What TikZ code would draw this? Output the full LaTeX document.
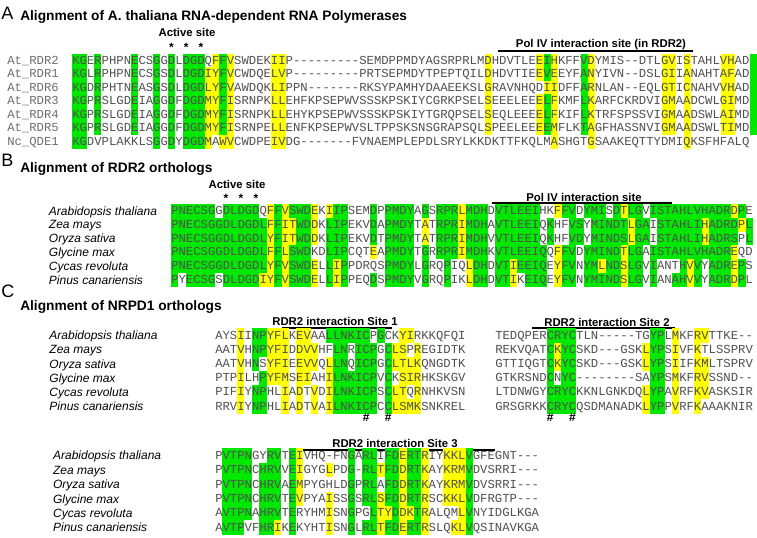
\documentclass[tikz,border=0pt]{standalone}
\usepackage{fontspec}
\setmainfont{Liberation Sans}
\setmonofont{Liberation Mono}
\definecolor{hlg}{RGB}{0,232,0}
\definecolor{hly}{RGB}{255,255,0}
\definecolor{seqtxt}{RGB}{80,80,80}
\definecolor{nmtxt}{RGB}{110,110,110}
% shading of one alignment row: g = green, y = yellow, . = none
\newcommand\hlrow[2]{\def\hlr{#1}\def\hlc{0}\hlnext#2\relax}
\newcommand\hlnext[1]{%
  \ifx\relax#1\else
    \if g#1\fill[hlg] (\hlc,\hlr-0.5) rectangle ++(1,1);\fi
    \if y#1\fill[hly] (\hlc,\hlr-0.5) rectangle ++(1,1);\fi
    \pgfmathtruncatemacro\hlc{\hlc+1}%
    \expandafter\hlnext
  \fi}
\begin{document}
\begin{tikzpicture}[x=0.75pt, y=-0.75pt,
    seq/.style={anchor=base west, inner sep=0pt, text=seqtxt, font=\fontsize{9.2}{10}\ttfamily},
    atname/.style={seq, text=nmtxt},
    spname/.style={anchor=base west, inner sep=0pt, font=\fontsize{9}{10}\selectfont\itshape},
    panel/.style={anchor=west, inner sep=0pt, font=\fontsize{13.5}{14}\selectfont},
    ttl/.style={anchor=west, inner sep=0pt, font=\fontsize{10.3}{12}\selectfont\bfseries},
    lbl/.style={inner sep=0pt, font=\fontsize{8.5}{10}\selectfont\bfseries},
    astk/.style={inner sep=0pt, font=\fontsize{9}{10}\selectfont\bfseries},
    bar/.style={line width=1.1pt}]
  \useasboundingbox (0,0) rectangle (757,538);

  % panel A
  \node[panel] (pA) at (1,13) {A};
  \node[ttl] (tA) at (20,17) {Alignment of A. thaliana RNA-dependent RNA Polymerases};
  \node[lbl] (actA) at (187,32) {Active site};
  \foreach \c [count=\i] in {171.5,186.3,201} {\node[astk] (sA\i) at (\c,47) {*};}
  \node[lbl] (polA) at (601,45) {Pol IV interaction site (in RDR2)};
  \coordinate (polA1) at (498,51); \coordinate (polA2) at (693,51);
  \draw[bar] (polA1) -- (polA2);
  \begin{scope}[shift={(72,60.5)}, x=5.5275pt, y=-10.16pt]
    \hlrow{0}{gg.g....g..g.g.ggg.ygy.....yy...........................y......ygy...gy.........yy.y....yy..g}
    \hlrow{1}{gg.g....g..g.g.gggyygy.....yy...........................y......ygy...gy.........yy.y....yy..g}
    \hlrow{2}{gg.g....g..g.g.gggyygy.....yy...........................y.......yy...gy.........yy.y....yy..g}
    \hlrow{3}{gg.g....g..g.g.gggyygy.....yy...........................y......ygy...gy.........yy.y....yy..g}
    \hlrow{4}{gg.g....g..g.g.gggyygy.....yy...........................y......ygy...gy.........yy.y....yy..g}
    \hlrow{5}{gg.g....g..g.g.gggyygy.....yy...........................y......ygy...gy.........yy.y....yy..g}
    \hlrow{6}{gg.........g.g.gggy.yy.....yy....................................y....y............y.........}
    \foreach \n [count=\i from 0] in {At\_RDR2,At\_RDR1,At\_RDR6,At\_RDR3,At\_RDR4,At\_RDR5,Nc\_QDE1}
      {\node[atname] (nA\i) at (-8.82,\i+0.26) {\n};}
    \foreach \s [count=\i from 0] in {
      KGERPHPNECSGGDLDGDQFFVSWDEKIIP---------SEMDPPMDYAGSRPRLMDHDVTLEEIHKFFVDYMIS--DTLGVISTAHLVHAD,
      KGLRPHPNECSGSDLDGDIYFVCWDQELVP---------PRTSEPMDYTPEPTQILDHDVTIEEVEEYFANYIVN--DSLGIIANAHTAFAD,
      KGDRPHTNEASGSDLDGDLYFVAWDQKLIPPN-------RKSYPAMHYDAAEEKSLGRAVNHQDIIDFFARNLAN--EQLGTICNAHVVHAD,
      KGPRSLGDEIAGGDFDGDMYFISRNPKLLEHFKPSEPWVSSSKPSKIYCGRKPSELSEEELEEELFKMFLKARFCKRDVIGMAADCWLGIMD,
      KGPRSLGDEIAGGDFDGDMYFISRNPKLLEHYKPSEPWVSSSKPSKIYTGRQPSELSEQLEEEELFKIFLKTRFSPSSVIGMAADSWLAIMD,
      KGPRSLGDEIAGGDFDGDMYFISRNPELLENFKPSEPWVSLTPPSKSNSGRAPSQLSPEELEEEEMFLKTAGFHASSNVIGMAADSWLTIMD,
      KGDVPLAKKLSGGDYDGDMAWVCWDPEIVDG-------FVNAEMPLEPDLSRYLKKDKTTFKQLMASHGTGSAAKEQTTYDMIQKSFHFALQ}
      {\node[seq] (qA\i) at (0,\i+0.26) {\s};}
  \end{scope}

  % panel B
  \node[panel] (pB) at (1,160) {B};
  \node[ttl] (tB) at (20,169) {Alignment of RDR2 orthologs};
  \node[lbl] (actB) at (237,184) {Active site};
  \foreach \c [count=\i] in {226,241,256} {\node[astk] (sB\i) at (\c,198.5) {*};}
  \node[lbl] (polB) at (584,197) {Pol IV interaction site};
  \coordinate (polB1) at (492,203); \coordinate (polB2) at (672,203);
  \draw[bar] (polB1) -- (polB2);
  \begin{scope}[shift={(171,211)}, x=5.5275pt, y=-10.35pt]
    \hlrow{0}{gggggg.ggggg.ygygggy.ygg...g.gggg.g.gggyggg.gggggg..ygg.ggg.gygg.gggggggggggyg.}
    \hlrow{1}{gggggggggggggygyyggy.ggg...g.gggg.y.gggyggg.gggggg.g..gg.gggggygg.ggggggyggggyg.}
    \hlrow{2}{gggggggggggggygyyggy.ggg...g.gggg.y.gggyggg.gggggg.g..gg.gggggygg.ggggggygggg.g.}
    \hlrow{3}{gggggggggggggygyggg..ggg...y.gggg.g.gggyggg.ggggggg.ygg.gggggygg.gggggggggggy..}
    \hlrow{4}{gggggggggggggygygggy.gyg.....gggg.g..g..ygg.ggygggg.ygg.ggyggygg.g...gyg.gggyg.}
    \hlrow{5}{g.gggg.gggggyygygggy.gyg...g.gggg.g..g..ygg.ggy.ggg.ygg.gggggygg.g..ggyg.gggyg.}
    \foreach \n [count=\i from 0] in {Arabidopsis thaliana,Zea mays,Oryza sativa,Glycine max,Cycas revoluta,Pinus canariensis}
      {\node[spname] (nB\i) at (-16.6,\i+0.3) {\n};}
    \foreach \s [count=\i from 0] in {
      PNECSGGDLDGDQFFVSWDEKIIPSEMDPPMDYAGSRPRLMDHDVTLEEIHKFFVDYMISDTLGVISTAHLVHADRDPE,
      PNECSGGDLDGDLFFITWDDKLIPEKVDAPMDYTATRPRIMDHAVTLEEIQKHFVSYMINDTLGAISTAHLIHADRDPL,
      PNECSGGDLDGDLYFITWDDKLIPEKVDTPMDYTATRPRIMDHVVTLEEIQKHFVDYMINDSLGAISTAHLIHADRSPL,
      PNECSGGDLDGDLFFLSWDKDLIPCQTEAPMDYTGRRPRIMDHKVTLEEIQQFFVDYMINDTLGAISTAHLVHADREQD,
      PNECSGGDLDGDLYFVSWDELLIPPDRQSPMDYLGRQPIQLDHDVTIEEIQEYFVNYMLNDSLGVIANTHVVYADREPS,
      PYECSGSDLDGDIYFVSWDELLIPPEQDSPMDYVGRQPIKLDHDVTIKEIQEYFVNYMINDSLGVIANAHVVYADRDPL}
      {\node[seq] (qB\i) at (0,\i+0.26) {\s};}
  \end{scope}

  % panel C
  \node[panel] (pC) at (1,291) {C};
  \node[ttl] (tC) at (20,307) {Alignment of NRPD1 orthologs};
  \node[lbl] (s1C) at (335,321) {RDR2 interaction Site 1};
  \coordinate (s1C1) at (282,328); \coordinate (s1C2) at (392,328);
  \draw[bar] (s1C1) -- (s1C2);
  \node[lbl] (s2C) at (607,322) {RDR2 interaction Site 2};
  \coordinate (s2C1) at (532,328); \coordinate (s2C2) at (675,328);
  \draw[bar] (s2C1) -- (s2C2);
  \begin{scope}[shift={(215,335.5)}, x=5.5275pt, y=-10.65pt]
    \hlrow{0}{...y.ggyyy.yy..gggggg.g..yy......}
    \hlrow{1}{...y.ggyyy.yyy..gg.ggg.gyy.y......}
    \hlrow{2}{...y.g.yyy.yyy.ygg.ggg.gyyyy......}
    \hlrow{3}{...y..gyyy.yy..ygggggg.g.yyy......}
    \hlrow{4}{...y.gg..y.y.y.ygggggg.gyy.y......}
    \hlrow{5}{...y.gg..y.y.y.ygggggg.gyyyy......}
    \foreach \n [count=\i from 0] in {Arabidopsis thaliana,Zea mays,Oryza sativa,Glycine max,Cycas revoluta,Pinus canariensis}
      {\node[spname] (nC\i) at (-22.5,\i+0.3) {\n};}
    \foreach \s [count=\i from 0] in {
      AYSIINPYFLKEVAALLNKICPGCKYIRKKQFQI,
      AATVHNPYFIDDVVHFLNRICPGCLSPREGIDTK,
      AATVHNSYFIEEVVQLLNQICPGCLTLKQNGDTK,
      PTPILHPYFMSEIAHILNKICPVCKSIRHKSKGV,
      PIFIYNPHLIADTVDILNKICPSCLTQRNHKVSN,
      RRVIYNPHLIADTVAILNKICPCCLSMKSNKREL}
      {\node[seq] (qC\i) at (0,\i+0.26) {\s};}
    \foreach \c [count=\i] in {20.5,23.5} {\node[astk] (hC\i) at (\c,5.75) {\#};}
  \end{scope}
  \begin{scope}[shift={(495,335.5)}, x=5.5275pt, y=-10.65pt]
    \hlrow{0}{.......gggg..........gg.y..yy.......}
    \hlrow{1}{.......gygg.........ygg.y..y........}
    \hlrow{2}{.......gygg.........ygg.y..yy.......}
    \hlrow{3}{.......g.gg..........gg.y..yy.......}
    \hlrow{4}{.......gggg.........ygg.y..yy.......}
    \hlrow{5}{.......gggg.........ygg.y..y........}
    \foreach \s [count=\i from 0] in {
      TEDQPERCRYCTLN-----TGYPLMKFRVTTKE--,
      REKVQATCKYCSKD---GSKLYPSIVFKTLSSPRV,
      GTTIQGTCKYCSKD---GSKLYPSIIFKMLTSPRV,
      GTKRSNDCNYC--------SAYPSMKFRVSSND--,
      LTDNWGYCRYCKKNLGNKDQLYPAVRFKVASKSIR,
      GRSGRKKCRYCQSDMANADKLYPPVRFKAAAKNIR}
      {\node[seq] (rC\i) at (0,\i+0.26) {\s};}
    \foreach \c [count=\i] in {7.5,10.5} {\node[astk] (gC\i) at (\c,5.75) {\#};}
  \end{scope}
  \node[lbl] (s3C) at (395,443) {RDR2 interaction Site 3};
  \coordinate (s3C1) at (303,450); \coordinate (s3C2) at (495,450);
  \draw[bar] (s3C1) -- (s3C2);
  \begin{scope}[shift={(215,455.5)}, x=5.5275pt, y=-10.8pt]
    \hlrow{0}{.gggg..gg.gy......g.gg.ggyggy..yyyg.........}
    \hlrow{1}{.gggg.ggg.gy...y..g.ggyggyggy..yyyg.........}
    \hlrow{2}{.gggg.ggg.gy......g.gg.ggyggy..yyyg.........}
    \hlrow{3}{.gggg.ggg.gy...y..g.ggyggyggy..yyyg.........}
    \hlrow{4}{.gggg.ggg.g....y..g..gyygyygy....yg.........}
    \hlrow{5}{.ggg..ggy.g....y..g.ggyggyggy...yyg.........}
    \foreach \n [count=\i from 0] in {Arabidopsis thaliana,Zea mays,Oryza sativa,Glycine max,Cycas revoluta,Pinus canariensis}
      {\node[spname] (mC\i) at (-22,\i+0.3) {\n};}
    \foreach \s [count=\i from 0] in {
      PVTPNGYRVTEIVHQ-FNGARLIFDERTRIYKKLVGFEGNT---,
      PVTPNCHRVVEIGYGLPDG-RLTFDDRTKAYKRMVDVSRRI---,
      PVTPNCHRVAEMPYGHLDGPRLAFDDRTKAYKRMVDVSRRI---,
      PVTPNCHRVTEVPYAISSGSRLSFDDRTRSCKKLVDFRGTP---,
      AVTPNAHRVTERYHMISNGPGLTYDDKTRALQMLVNYIDGLKGA,
      AVTPVFHRIKEKYHTISNGLRLTFDERTRSLQKLVQSINAVKGA}
      {\node[seq] (uC\i) at (0,\i+0.26) {\s};}
  \end{scope}
\end{tikzpicture}
\end{document}
